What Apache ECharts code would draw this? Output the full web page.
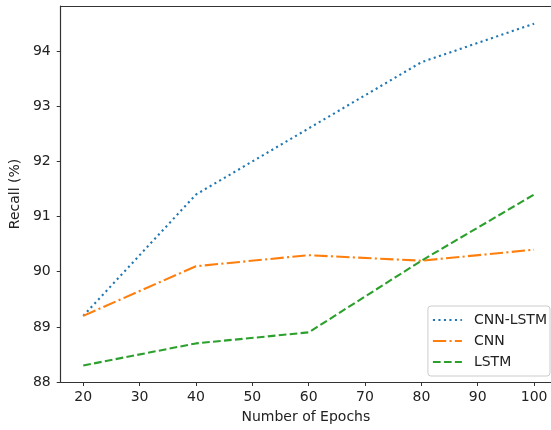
<!DOCTYPE html>
<html>
<head>
<meta charset="utf-8">
<script src="https://cdn.jsdelivr.net/npm/echarts@6/dist/echarts.min.js"></script>
<style>html,body{margin:0;padding:0;background:#fff}#c{width:551px;height:430px}</style>
</head>
<body>
<div id="c"></div>
<script>
var epochs = [20, 40, 60, 80, 100];
var cnnLstm = [89.2, 91.4, 92.6, 93.8, 94.5];
var cnn = [89.2, 90.1, 90.3, 90.2, 90.4];
var lstm = [88.3, 88.7, 88.9, 90.2, 91.4];
var xTicks = [20, 30, 40, 50, 60, 70, 80, 90, 100];
var yTicks = [88, 89, 90, 91, 92, 93, 94];
var seriesNames = ['CNN-LSTM', 'CNN', 'LSTM'];

function pairs(vals) { return epochs.map(function (e, i) { return [e, vals[i]]; }); }

var font = 'DejaVu Sans';
var spine = {show: true, lineStyle: {color: '#333', width: 1.2}};
var chart = echarts.init(document.getElementById('c'), null, {renderer: 'canvas'});
chart.setOption({
  animation: false,
  backgroundColor: '#fff',
  grid: {left: 58, top: 6, right: 0, bottom: 48},
  xAxis: [{
    type: 'value', min: 16, max: 103,
    name: 'Number of Epochs', nameLocation: 'middle', nameGap: 28,
    nameTextStyle: {fontFamily: font, fontSize: 14, color: '#222'},
    axisLine: spine,
    axisTick: {show: true, inside: false, length: 4, lineStyle: {color: '#333', width: 1}, customValues: xTicks},
    axisLabel: {fontFamily: font, fontSize: 14, color: '#222', margin: 8, customValues: xTicks},
    splitLine: {show: false}
  }, {
    type: 'value', position: 'top', min: 16, max: 103,
    axisLine: spine, axisTick: {show: false}, axisLabel: {show: false}, splitLine: {show: false}
  }],
  yAxis: {
    type: 'value', min: 88, max: 94.82,
    name: 'Recall (%)', nameLocation: 'middle', nameGap: 29, nameRotate: 90,
    nameTextStyle: {fontFamily: font, fontSize: 14, color: '#222'},
    axisLine: spine,
    axisTick: {show: true, inside: false, length: 4, lineStyle: {color: '#333', width: 1}, customValues: yTicks},
    axisLabel: {fontFamily: font, fontSize: 14, color: '#222', margin: 10, customValues: yTicks},
    splitLine: {show: false}
  },
  legend: {
    orient: 'vertical', right: 1, bottom: 54,
    padding: [7, 3, 7, 4], itemWidth: 29, itemHeight: 14, itemGap: 7,
    backgroundColor: '#fff', borderColor: '#ccc', borderWidth: 1, borderRadius: 3,
    itemStyle: {color: 'transparent', borderWidth: 0, opacity: 0},
    textStyle: {fontFamily: font, fontSize: 14, color: '#222', padding: [0, 0, 0, 7]},
    data: seriesNames
  },
  series: [
    {name: seriesNames[0], type: 'line', symbol: 'none', data: pairs(cnnLstm), color: '#1f77b4',
     lineStyle: {width: 2.1, type: [2.1, 3.4], cap: 'butt'}},
    {name: seriesNames[1], type: 'line', symbol: 'none', data: pairs(cnn), color: '#ff7f0e',
     lineStyle: {width: 2.1, type: [13.3, 3.3, 2.1, 3.3], cap: 'butt'}},
    {name: seriesNames[2], type: 'line', symbol: 'none', data: pairs(lstm), color: '#2ca02c',
     lineStyle: {width: 2.1, type: [7.7, 3.3], cap: 'butt'}}
  ]
});
</script>
</body>
</html>
